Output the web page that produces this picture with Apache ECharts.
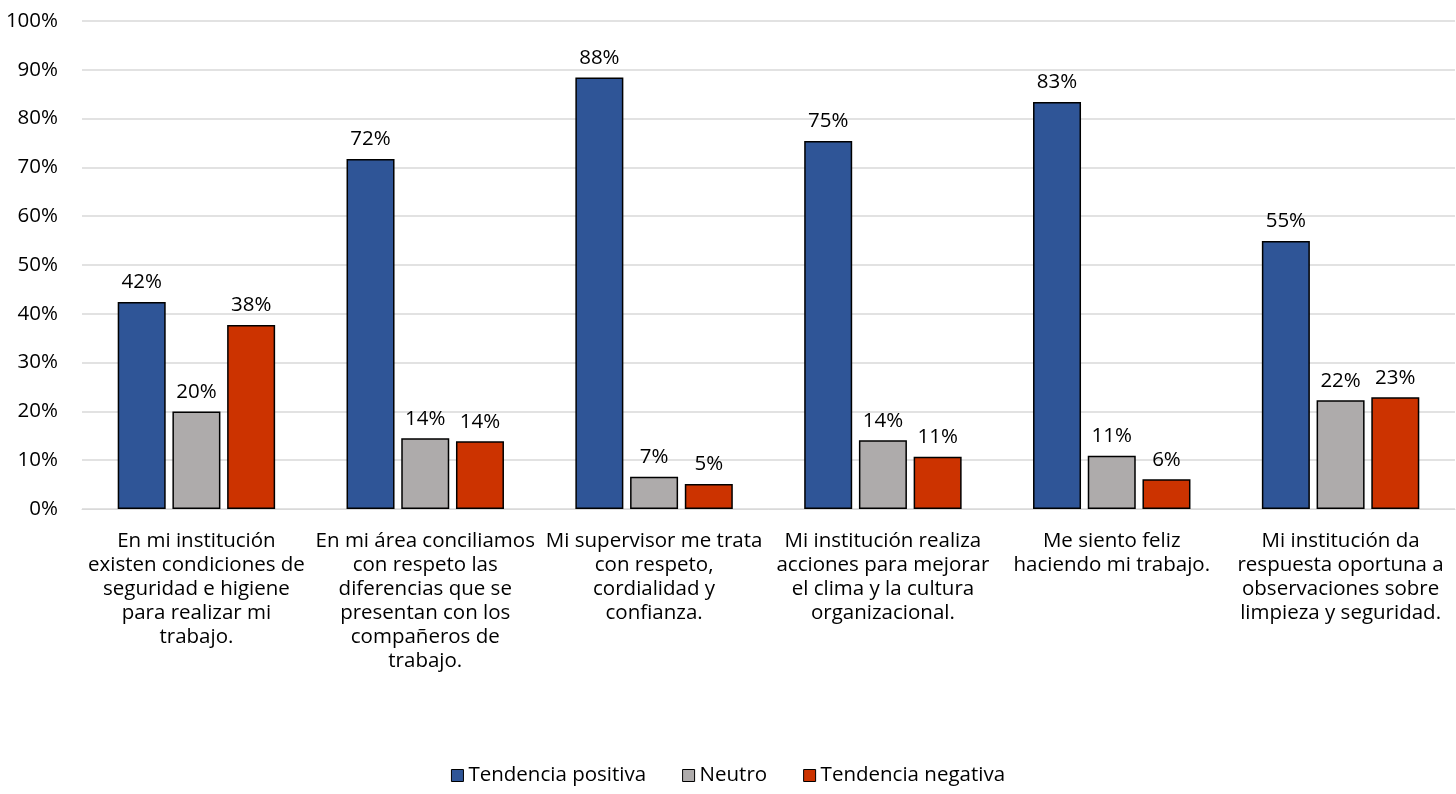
<!DOCTYPE html>
<html><head><meta charset="utf-8">
<script src="https://cdn.jsdelivr.net/npm/echarts@6/dist/echarts.min.js"></script>
<style>html,body{margin:0;padding:0;background:#fff}#c{width:1456px;height:794px}</style>
</head><body><div id="c"></div>
<script>
const categories = [
  "En mi institución\nexisten condiciones de\nseguridad e higiene\npara realizar mi\ntrabajo.",
  "En mi área conciliamos\ncon respeto las\ndiferencias que se\npresentan con los\ncompañeros de\ntrabajo.",
  "Mi supervisor me trata\ncon respeto,\ncordialidad y\nconfianza.",
  "Mi institución realiza\nacciones para mejorar\nel clima y la cultura\norganizacional.",
  "Me siento feliz\nhaciendo mi trabajo.",
  "Mi institución da\nrespuesta oportuna a\nobservaciones sobre\nlimpieza y seguridad."
];
const positiva = [0.424, 0.717, 0.884, 0.754, 0.834, 0.549];
const neutro   = [0.200, 0.145, 0.066, 0.141, 0.109, 0.223];
const negativa = [0.377, 0.139, 0.051, 0.107, 0.061, 0.229];
const seriesNames = ["Tendencia positiva", "Neutro", "Tendencia negativa"];
const colors = ["#2F5597", "#AEABAB", "#CC3300"];

const FONT = "'Open Sans', sans-serif";
const FS = 20.5;
const chart = echarts.init(document.getElementById('c'));
const mk = (name, data, color) => ({
  name, type: 'bar', data, barWidth: 48, barGap: '14%',
  itemStyle: { color, borderColor: '#000', borderWidth: 1.5 },
  label: { show: true, position: 'top', distance: 9, color: '#000', fontFamily: FONT, fontSize: FS,
    formatter: p => Math.round(p.value * 100) + '%' }
});
chart.setOption({
  animation: false,
  textStyle: { fontFamily: FONT },
  grid: { left: 82, right: 1, top: 21, bottom: 285, containLabel: false },
  legend: {
    bottom: 3, left: 'center', itemWidth: 12, itemHeight: 12, itemGap: 36,
    textStyle: { fontFamily: FONT, fontSize: FS, color: '#000' },
    data: seriesNames.map((n, i) => ({ name: n, icon: 'rect', itemStyle: { color: colors[i], borderColor: '#000', borderWidth: 1 } }))
  },
  xAxis: {
    type: 'category', data: categories,
    axisLine: { lineStyle: { color: '#D9D9D9', width: 1 } },
    axisTick: { show: false },
    axisLabel: { interval: 0, color: '#000', fontFamily: FONT, fontSize: FS, lineHeight: 24, margin: 20 }
  },
  yAxis: {
    type: 'value', min: 0, max: 1, interval: 0.1,
    axisLine: { show: false }, axisTick: { show: false },
    splitLine: { lineStyle: { color: '#D9D9D9', width: 1.5 } },
    axisLabel: { color: '#000', fontFamily: FONT, fontSize: FS, margin: 24, formatter: v => Math.round(v * 100) + '%' }
  },
  series: [mk(seriesNames[0], positiva, colors[0]), mk(seriesNames[1], neutro, colors[1]), mk(seriesNames[2], negativa, colors[2])]
});
</script></body></html>
